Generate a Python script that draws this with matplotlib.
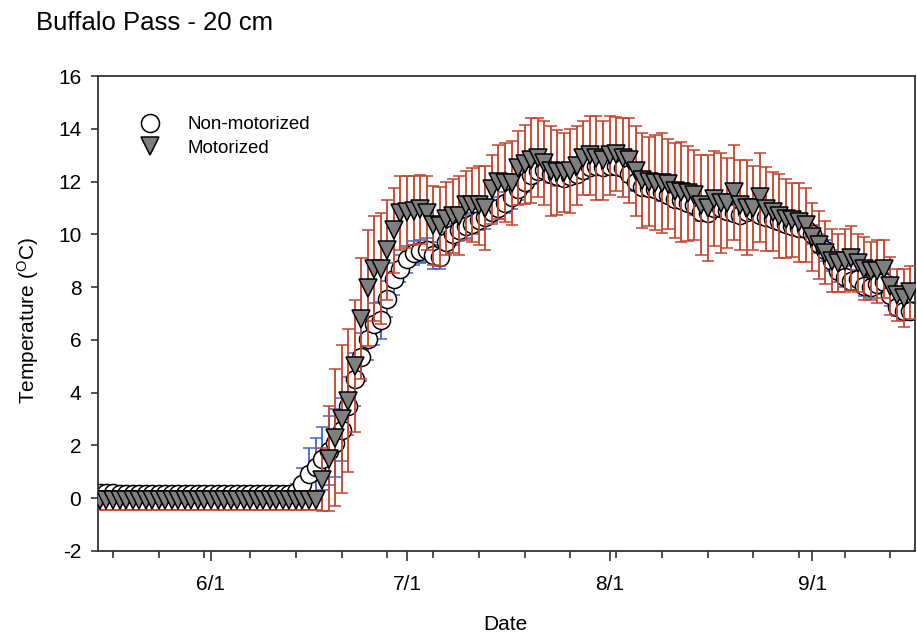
import matplotlib
matplotlib.use('Agg')
import matplotlib.pyplot as plt
import matplotlib.dates as mdates
import matplotlib.ticker as mticker
import pandas as pd

plt.rcParams['font.family'] = ['Liberation Sans', 'DejaVu Sans']
plt.rcParams['axes.unicode_minus'] = False

# daily soil temperature at 20 cm, May 15 - Sep 16
dates = pd.date_range('2010-05-15', '2010-09-16', freq='D')

nm_may = [0.2, 0.2, 0.2, 0.15, 0.15, 0.15, 0.15, 0.15, 0.15, 0.15, 0.15, 0.15,
          0.15, 0.15, 0.15, 0.15, 0.15]
nm_jun = [0.15, 0.15, 0.15, 0.15, 0.15, 0.15, 0.15, 0.15, 0.15, 0.15, 0.15, 0.15,
          0.15, 0.25, 0.55, 0.9, 1.2, 1.5, 1.8, 2.1, 2.6, 3.5, 4.5, 5.35, 6.05,
          6.6, 6.75, 7.55, 8.3, 8.7]
nm_jul = [9.05, 9.3, 9.35, 9.4, 9.2, 9.15, 9.7, 10.0, 10.15, 10.3, 10.4, 10.55,
          10.65, 10.85, 11.0, 11.2, 11.4, 11.7, 12.0, 12.25, 12.4, 12.45, 12.3,
          12.2, 12.15, 12.2, 12.3, 12.45, 12.55, 12.6, 12.55]
nm_aug = [12.6, 12.6, 12.5, 12.3, 12.0, 11.8, 11.75, 11.7, 11.6, 11.5, 11.35,
          11.3, 11.2, 11.1, 10.85, 10.8, 11.0, 11.0, 10.9, 10.8, 10.75, 10.85,
          10.9, 10.75, 10.65, 10.6, 10.5, 10.4, 10.3, 10.25, 10.2]
nm_sep = [10.0, 9.65, 9.4, 9.0, 8.6, 8.4, 8.25, 8.3, 8.05, 8.0, 8.1, 8.2, 7.7,
          7.25, 7.1, 7.1]

nm_err_may = [0.05, 0.05, 0.05, 0.05, 0.05, 0.05, 0.05, 0.05, 0.05, 0.05, 0.05,
              0.05, 0.05, 0.05, 0.05, 0.05, 0.05]
nm_err_jun = [0.05, 0.05, 0.05, 0.05, 0.05, 0.05, 0.05, 0.05, 0.05, 0.05, 0.05,
              0.05, 0.05, 0.3, 0.6, 1.0, 1.1, 1.2, 1.3, 1.3, 1.2, 1.1, 1.0, 0.9,
              0.8, 0.8, 0.7, 0.7, 0.6, 0.5]
nm_err_jul = [0.5, 0.45, 0.45, 0.45, 0.5, 0.45, 0.4, 0.4, 0.4, 0.45, 0.4, 0.4,
              0.45, 0.4, 0.4, 0.4, 0.45, 0.4, 0.4, 0.35, 0.35, 0.3, 0.35, 0.35,
              0.3, 0.3, 0.3, 0.35, 0.3, 0.3, 0.3]
nm_err_aug = [0.3, 0.3, 0.3, 0.3, 0.35, 0.3, 0.3, 0.3, 0.35, 0.3, 0.3, 0.3, 0.3,
              0.35, 0.35, 0.3, 0.3, 0.3, 0.3, 0.3, 0.3, 0.3, 0.3, 0.3, 0.3, 0.3,
              0.35, 0.3, 0.3, 0.3, 0.3]
nm_err_sep = [0.35, 0.35, 0.4, 0.4, 0.4, 0.4, 0.35, 0.35, 0.4, 0.4, 0.35, 0.35,
              0.4, 0.35, 0.35, 0.35]

mo_may = [-0.08, -0.08, -0.08, -0.08, -0.08, -0.08, -0.08, -0.08, -0.08, -0.08,
          -0.08, -0.08, -0.08, -0.08, -0.08, -0.08, -0.08]
mo_jun = [-0.08, -0.08, -0.08, -0.08, -0.08, -0.08, -0.08, -0.08, -0.08, -0.08,
          -0.08, -0.08, -0.08, -0.08, -0.08, -0.08, -0.08, 0.7, 1.5, 2.3, 3.0,
          3.7, 5.0, 6.8, 7.95, 8.7, 8.7, 9.4, 10.15, 10.8]
mo_jul = [10.85, 10.9, 10.95, 10.8, 10.35, 10.3, 10.6, 10.7, 10.7, 11.1, 11.1,
          11.1, 11.0, 11.7, 12.0, 11.95, 11.95, 12.5, 12.65, 12.8, 12.9, 12.7,
          12.4, 12.35, 12.35, 12.4, 12.6, 12.9, 13.0, 12.9, 12.8]
mo_aug = [13.0, 13.05, 12.9, 12.8, 12.4, 12.05, 12.0, 11.95, 11.95, 11.9, 11.65,
          11.6, 11.55, 11.5, 11.1, 11.0, 11.35, 11.2, 11.2, 11.6, 11.1, 11.0,
          11.0, 11.4, 10.95, 10.85, 10.7, 10.6, 10.55, 10.45, 10.35]
mo_sep = [9.9, 9.6, 9.3, 9.0, 8.9, 9.0, 9.1, 8.9, 8.7, 8.6, 8.6, 8.7, 8.05, 7.7,
          7.6, 7.8]

mo_err_may = [0.35, 0.35, 0.35, 0.35, 0.35, 0.35, 0.35, 0.35, 0.35, 0.35, 0.35,
              0.35, 0.35, 0.35, 0.35, 0.35, 0.35]
mo_err_jun = [0.35, 0.35, 0.35, 0.35, 0.35, 0.35, 0.35, 0.35, 0.35, 0.35, 0.35,
              0.35, 0.35, 0.35, 0.35, 0.35, 0.35, 1.2, 2.0, 2.6, 2.8, 2.7, 2.5,
              2.3, 2.2, 2.0, 2.1, 1.9, 1.6, 1.4]
mo_err_jul = [1.35, 1.3, 1.3, 1.4, 1.5, 1.5, 1.4, 1.4, 1.5, 1.3, 1.4, 1.5, 1.6,
              1.3, 1.4, 1.5, 1.6, 1.4, 1.5, 1.6, 1.5, 1.6, 1.7, 1.6, 1.5, 1.6,
              1.5, 1.4, 1.5, 1.6, 1.5]
mo_err_aug = [1.5, 1.4, 1.5, 1.6, 1.7, 1.8, 1.7, 1.8, 1.9, 1.7, 1.8, 1.9, 1.8,
              1.7, 1.9, 2.0, 1.8, 1.9, 1.7, 1.8, 1.7, 1.8, 1.6, 1.7, 1.6, 1.5,
              1.6, 1.5, 1.4, 1.5, 1.4]
mo_err_sep = [1.3, 1.3, 1.2, 1.2, 1.1, 1.2, 1.2, 1.1, 1.2, 1.1, 1.2, 1.1, 1.1,
              1.0, 1.1, 1.0]

nm = nm_may + nm_jun + nm_jul + nm_aug + nm_sep
nm_err = nm_err_may + nm_err_jun + nm_err_jul + nm_err_aug + nm_err_sep
mo = mo_may + mo_jun + mo_jul + mo_aug + mo_sep
mo_err = mo_err_may + mo_err_jun + mo_err_jul + mo_err_aug + mo_err_sep

red = '#c4432c'
blue = '#3e62d2'

fig = plt.figure(figsize=(9.17, 6.37), dpi=100)
ax = fig.add_axes([98 / 917, 1 - 551 / 637, 817 / 917, 475 / 637])

eb_nm = ax.errorbar(dates, nm, yerr=nm_err, fmt='o', ms=13, mfc='white',
                    mec='black', mew=1.1, ecolor=blue, elinewidth=1.3,
                    capsize=4, capthick=1.3, zorder=2)
eb_mo = ax.errorbar(dates, mo, yerr=mo_err, fmt='v', ms=13, mfc='#7f7f7f',
                    mec='black', mew=1.1, ecolor=red, elinewidth=1.3,
                    capsize=4, capthick=1.3, zorder=3)

ax.set_xlim(pd.Timestamp('2010-05-14 17:00'), pd.Timestamp('2010-09-16 18:00'))
ax.set_ylim(-2, 16)
ax.yaxis.set_major_locator(mticker.MultipleLocator(2))

ax.xaxis.set_major_locator(mdates.MonthLocator(bymonthday=1))
ax.xaxis.set_major_formatter(
    mticker.FuncFormatter(lambda v, p: '{}/{}'.format(mdates.num2date(v).month,
                                                       mdates.num2date(v).day)))
weekly = pd.date_range('2010-05-17', '2010-09-13', freq='7D')
ax.xaxis.set_minor_locator(mticker.FixedLocator(mdates.date2num(weekly)))

ax.tick_params(axis='both', which='major', direction='out', labelsize=15,
               width=1.2, color='#333333')
ax.tick_params(axis='x', which='major', length=7, pad=10)
ax.tick_params(axis='y', which='major', length=5, pad=7)
ax.tick_params(axis='x', which='minor', direction='out', length=5, width=1.2,
               color='#333333')
for s in ax.spines.values():
    s.set_linewidth(1.3)
    s.set_color('#333333')

ax.legend(handles=[eb_nm[0], eb_mo[0]], labels=['Non-motorized', 'Motorized'],
          loc='center left', bbox_to_anchor=(0.041, 0.8725), frameon=False,
          borderpad=0, borderaxespad=0, handlelength=2.0, handletextpad=1.0,
          labelspacing=0.35, fontsize=13.5, numpoints=1)

fig.text(36 / 917, 1 - 23 / 637, 'Buffalo Pass - 20 cm', fontsize=18.5,
         ha='left', va='center')
fig.text(28 / 917, 1 - 320 / 637, r'Temperature ($\mathregular{^{O}}$C)',
         fontsize=15, rotation=90, ha='center', va='center')
fig.text(505 / 917, 1 - 625 / 637, 'Date', fontsize=15, ha='center', va='center')

fig.savefig('out.png', dpi=100)
